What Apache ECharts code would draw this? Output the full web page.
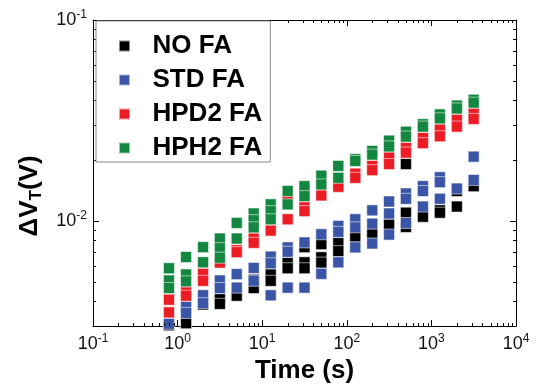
<!DOCTYPE html>
<html>
<head>
<meta charset="utf-8">
<script src="https://cdn.jsdelivr.net/npm/echarts@6/dist/echarts.min.js"></script>
<style>
html,body{margin:0;padding:0;background:#fff;}
#chart{width:537px;height:389px;}
</style>
</head>
<body>
<div id="chart"></div>
<script>
// ---- data ----
const TIMES = [0.79, 1.26, 2.0, 3.16, 5.0, 7.94, 12.6, 20, 31.6, 50, 79.4, 126, 200, 316, 500, 794, 1260, 2000, 3160];

const SERIES_NAMES = ['NO FA', 'STD FA', 'HPD2 FA', 'HPH2 FA'];

// each entry: values measured at the matching TIMES index
const NO_FA = [[0.00303],[0.0031],[0.00384],[0.00408,0.00387],[0.00425],[0.0051,0.00464],[0.00542,0.00504],[0.00618,0.00582],[0.00741,0.00623,0.00582],[0.00767,0.0066,0.00621],[0.00776,0.00708],[0.00837],[0.00866],[0.00959],[0.0192,0.011,0.00934],[0.0105],[0.0113,0.011],[0.0141,0.0118],[0.0149]];
const STD_FA = [[0.00308],[0.00374,0.00349],[0.00427,0.0039],[0.00506,0.00464],[0.00544,0.00466],[0.00584,0.00504],[0.00665,0.00616,0.00427],[0.00739,0.00703,0.00466],[0.00782,0.00466],[0.00859,0.00546],[0.00945,0.00883,0.00623],[0.0102,0.0093,0.00739],[0.0113,0.0097,0.00773],[0.0125,0.0109,0.00856],[0.0137,0.0129,0.00978],[0.0149,0.0141,0.0118],[0.0165,0.0156,0.0129],[0.0145],[0.0209,0.016]];
const HPD2_FA = [[0.00406,0.00351],[0.00442,0.00425],[0.00546,0.00504],[0.00621],[0.00716,0.0070],[0.00818,0.00779],[0.00896],[0.0129,0.0102],[0.0117,0.0112],[0.0134],[0.0148],[0.0172,0.0164],[0.0188,0.0179],[0.0207,0.0192],[0.0231,0.0219],[0.0259,0.0244],[0.0285,0.0264],[0.0319,0.0295],[0.0342,0.0322]];
const HPH2_FA = [[0.00582,0.00506,0.00464],[0.00662,0.00542,0.00501],[0.00741,0.00623],[0.00818,0.00733,0.00657],[0.00978,0.00818],[0.0109,0.0101,0.0093],[0.0121,0.0112,0.0102],[0.0141,0.0121],[0.0149,0.0133],[0.0168,0.0152],[0.0188,0.0164],[0.0203,0.0199],[0.0223,0.0214],[0.0251,0.0235],[0.0278,0.0263],[0.0303,0.0295],[0.0339,0.0324],[0.0375,0.0363],[0.0401,0.0388]];

const X_MINOR_TICKS = [0.2,0.3,0.4,0.5,0.6,0.7,0.8,0.9, 2,3,4,5,6,7,8,9, 20,30,40,50,60,70,80,90, 200,300,400,500,600,700,800,900, 2000,3000,4000,5000,6000,7000,8000,9000];
const Y_MINOR_TICKS = [0.004,0.005,0.006,0.007,0.008,0.009, 0.02,0.03,0.04,0.05,0.06,0.07,0.08,0.09];

// ---- styles ----
const FONT = "'Liberation Sans', Arial, Helvetica, sans-serif";
const COLORS = ['#000000', '#3a55a6', '#ec1c24', '#138640'];

function toPoints(arr) {
  const out = [];
  arr.forEach((vals, i) => vals.forEach(v => out.push([TIMES[i], v])));
  return out;
}
const SERIES_DATA = [NO_FA, STD_FA, HPD2_FA, HPH2_FA];

function powLabel(v) {
  const e = Math.log10(v);
  if (Math.abs(e - Math.round(e)) > 1e-6) return '';
  return '{a|10}{b|' + Math.round(e) + '}';
}
const labelRich = {
  a: {fontSize: 18, fontFamily: FONT, color: '#111', lineHeight: 22},
  b: {fontSize: 12, fontFamily: FONT, color: '#111', lineHeight: 12, verticalAlign: 'top'}
};

const axisCommon = {
  type: 'log', logBase: 10,
  axisLine: {show: true, onZero: false, lineStyle: {color: '#000', width: 1}},
  axisTick: {show: true, inside: true, length: 6, lineStyle: {color: '#000', width: 1}},
  splitLine: {show: false},
  minorTick: {show: false}
};

function minorX(params, api) {
  const cs = params.coordSys;
  const px = Math.round(api.coord([api.value(0), api.value(1)])[0]) + 0.5;
  const b = cs.y + cs.height, t = cs.y;
  return {type: 'group', children: [
    {type: 'line', shape: {x1: px, y1: b, x2: px, y2: b - 3}, style: {stroke: '#000', lineWidth: 1}},
    {type: 'line', shape: {x1: px, y1: t, x2: px, y2: t + 3}, style: {stroke: '#000', lineWidth: 1}}
  ]};
}
function minorY(params, api) {
  const cs = params.coordSys;
  const py = Math.round(api.coord([api.value(0), api.value(1)])[1]) + 0.5;
  const l = cs.x, r = cs.x + cs.width;
  return {type: 'group', children: [
    {type: 'line', shape: {x1: l, y1: py, x2: l + 3, y2: py}, style: {stroke: '#000', lineWidth: 1}},
    {type: 'line', shape: {x1: r, y1: py, x2: r - 3, y2: py}, style: {stroke: '#000', lineWidth: 1}}
  ]};
}

const chart = echarts.init(document.getElementById('chart'), null, {renderer: 'canvas'});

const series = SERIES_NAMES.map((name, k) => ({
  name: name,
  type: 'scatter',
  symbol: 'rect',
  symbolSize: 11,
  clip: true,
  data: toPoints(SERIES_DATA[k]),
  itemStyle: {color: COLORS[k], borderColor: 'rgba(255,255,255,0.55)', borderWidth: 1, opacity: 1},
  emphasis: {disabled: true},
  z: 2
}));
series.push({
  type: 'custom', name: 'xminor', silent: true, renderItem: minorX,
  data: X_MINOR_TICKS.map(v => [v, 0.01]), z: 3, clip: false
});
series.push({
  type: 'custom', name: 'yminor', silent: true, renderItem: minorY,
  data: Y_MINOR_TICKS.map(v => [1, v]), z: 3, clip: false
});

chart.setOption({
  animation: false,
  backgroundColor: '#fff',
  textStyle: {fontFamily: FONT},
  grid: {left: 93, right: 21, top: 20, bottom: 60, containLabel: false},
  xAxis: [
    Object.assign({}, axisCommon, {
      min: 0.1, max: 10000, position: 'bottom',
      axisLabel: {formatter: powLabel, rich: labelRich, margin: 7, fontSize: 18, fontFamily: FONT, color: '#111'},
      name: 'Time (s)', nameLocation: 'middle', nameGap: 27,
      nameTextStyle: {fontSize: 26, fontWeight: 'bold', color: '#000', fontFamily: FONT}
    }),
    Object.assign({}, axisCommon, {
      min: 0.1, max: 10000, position: 'top', axisLabel: {show: false}
    })
  ],
  yAxis: [
    Object.assign({}, axisCommon, {
      min: 0.003, max: 0.1, position: 'left',
      axisLabel: {formatter: powLabel, rich: labelRich, margin: 6, fontSize: 18, fontFamily: FONT, color: '#111'}
    }),
    Object.assign({}, axisCommon, {
      min: 0.003, max: 0.1, position: 'right', axisLabel: {show: false}
    })
  ],
  legend: {
    data: SERIES_NAMES.map(n => ({name: n, icon: 'path://M0 0H10V10H0Z'})),
    orient: 'vertical', left: 96, top: 21,
    itemWidth: 46, itemHeight: 11, itemGap: 8,
    padding: [12, 8, 1, 22],
    symbolKeepAspect: true,
    borderColor: '#888', borderWidth: 1, backgroundColor: '#fff',
    selectedMode: false,
    textStyle: {fontSize: 26, fontWeight: 'bold', color: '#000', lineHeight: 26, fontFamily: FONT}
  },
  graphic: [{
    type: 'text', x: 30, y: 196, rotation: Math.PI / 2,
    style: {
      text: '{a|ΔV}{b|T}{a|(V)}',
      align: 'center', verticalAlign: 'middle',
      rich: {
        a: {fontSize: 26, fontWeight: 'bold', fontFamily: FONT, fill: '#000', lineHeight: 30},
        b: {fontSize: 17, fontWeight: 'bold', fontFamily: FONT, fill: '#000', lineHeight: 16, verticalAlign: 'bottom'}
      }
    }
  }],
  series: series
});
</script>
</body>
</html>
